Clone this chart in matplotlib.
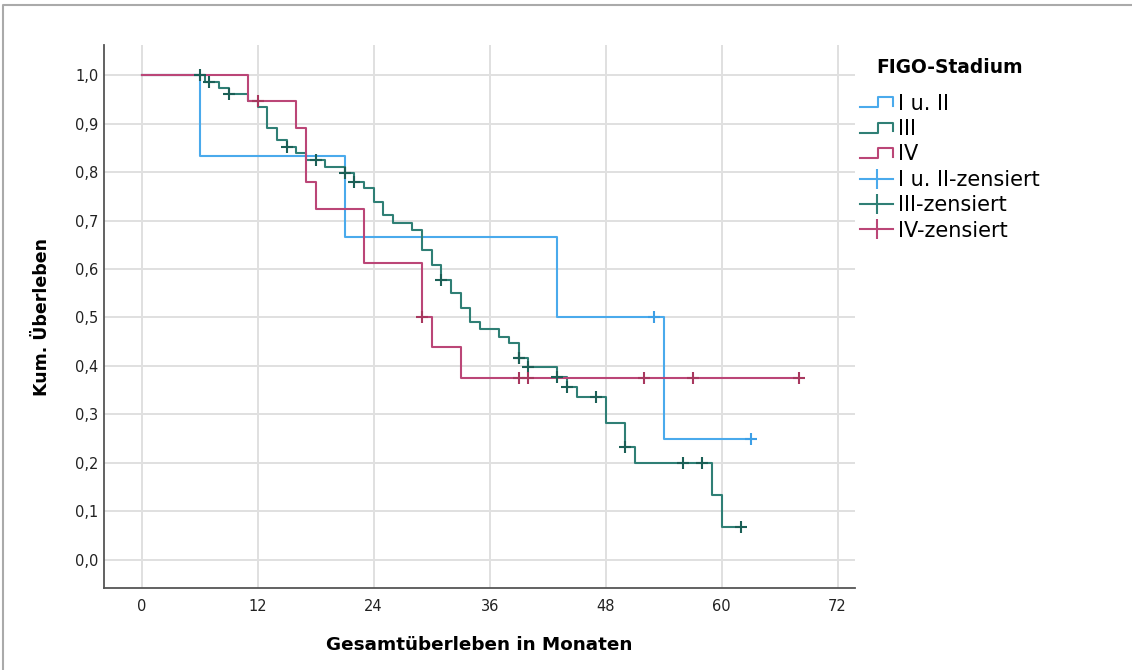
import matplotlib

matplotlib.use("Agg")
import matplotlib.pyplot as plt
import numpy as np
from matplotlib.legend_handler import HandlerBase
from matplotlib.lines import Line2D

# Kaplan-Meier step data (months, cumulative survival after the drop)
groups = ["I u. II", "III", "IV"]

t_12 = [6, 21, 43, 54]
s_12 = [0.833, 0.667, 0.500, 0.250]
c_12 = [53, 63]

t_3 = [6.5, 8, 9, 11, 12, 13, 14, 15, 16, 17, 19, 21, 22, 23, 24, 25, 26, 28, 29,
       30, 31, 32, 33, 34, 35, 37, 38, 39, 40, 43, 44, 45, 48, 50, 51, 59, 60]
s_3 = [0.986, 0.973, 0.960, 0.946, 0.934, 0.891, 0.866, 0.852, 0.839, 0.825,
       0.810, 0.798, 0.779, 0.767, 0.738, 0.711, 0.695, 0.680, 0.639, 0.608,
       0.577, 0.551, 0.520, 0.491, 0.476, 0.460, 0.447, 0.416, 0.398, 0.377,
       0.357, 0.336, 0.282, 0.233, 0.200, 0.134, 0.068]
c_3 = [6, 7, 9, 15, 18, 21, 22, 31, 39, 39, 40, 43, 44, 47, 50, 56, 58, 62]

t_4 = [11, 16, 17, 18, 23, 29, 30, 33]
s_4 = [0.947, 0.891, 0.780, 0.724, 0.613, 0.501, 0.439, 0.376]
c_4 = [12, 29, 39, 40, 52, 57, 68]

x_ticks = [0, 12, 24, 36, 48, 60, 72]
y_ticks = [0.0, 0.1, 0.2, 0.3, 0.4, 0.5, 0.6, 0.7, 0.8, 0.9, 1.0]

LINE_COL = ["#4aaaec", "#2f7f75", "#bb4677"]
MARK_COL = ["#3d9fe6", "#1b5f56", "#a8385f"]


class StepHandler(HandlerBase):
    def create_artists(self, legend, orig_handle, xdescent, ydescent,
                       width, height, fontsize, trans):
        lo = -ydescent + 0.15 * height
        hi = -ydescent + 0.85 * height
        x0 = -xdescent
        xs = [x0, x0 + 0.55 * width, x0 + 0.55 * width, x0 + width, x0 + width]
        ys = [lo, lo, hi, hi, lo + 0.1 * height]
        ln = Line2D(xs, ys, color=orig_handle.get_color(),
                    lw=orig_handle.get_linewidth(), transform=trans)
        return [ln]


def step_xy(times, surv, cens):
    end = max([times[-1]] + list(cens))
    xs = np.concatenate([[0], times, [end]])
    ys = np.concatenate([[1.0], surv, [surv[-1]]])
    return xs, ys


def value_at(times, surv, t):
    i = np.searchsorted(np.asarray(times), t, side="right")
    return 1.0 if i == 0 else surv[i - 1]


fig = plt.figure(figsize=(11.32, 6.70), dpi=100)
ax = fig.add_axes([104 / 1132, 1 - 588 / 670, (855 - 104) / 1132, (588 - 45) / 670])

data = [(t_12, s_12, c_12), (t_3, s_3, c_3), (t_4, s_4, c_4)]
for k, (tt, ss, cc) in enumerate(data):
    xs, ys = step_xy(tt, ss, cc)
    ax.step(xs, ys, where="post", color=LINE_COL[k], lw=1.5, zorder=3)
    cy = [value_at(tt, ss, c) for c in cc]
    ax.plot(cc, cy, ls="none", marker="+", ms=9, mew=1.5,
            color=MARK_COL[k], zorder=4)

ax.set_xlim(-3.9, 73.8)
ax.set_ylim(-0.058, 1.062)
ax.set_xticks(x_ticks)
ax.set_yticks(y_ticks)
ax.set_yticklabels([f"{v:.1f}".replace(".", ",") for v in y_ticks])
ax.tick_params(axis="x", length=0, labelsize=10.5, colors="#222222", pad=8)
ax.tick_params(axis="y", length=0, labelsize=10.5, colors="#222222", pad=4)
ax.grid(True, color="#e0e0e0", lw=1.4, zorder=0)
ax.set_axisbelow(True)
for side in ["top", "right"]:
    ax.spines[side].set_visible(False)
for side in ["left", "bottom"]:
    ax.spines[side].set_color("#555555")
    ax.spines[side].set_linewidth(1.3)

ax.set_xlabel("Gesamtüberleben in Monaten", fontsize=13.2, fontweight="bold", labelpad=16)
ax.set_ylabel("Kum. Überleben", fontsize=12.5, fontweight="bold", labelpad=17)

handles = []
labels = []
for k, g in enumerate(groups):
    handles.append(Line2D([], [], color=LINE_COL[k], lw=1.5))
    labels.append(g)
for k, g in enumerate(groups):
    handles.append(Line2D([0, 1], [0, 0], color=LINE_COL[k], lw=1.5,
                          marker="|", ms=14, mew=1.5))
    labels.append(g + "-zensiert")

handler_map = {h: StepHandler() for h in handles[:3]}
leg = fig.legend(handles, labels, handler_map=handler_map,
                 loc="upper left", bbox_to_anchor=(860 / 1132, 1 - 58 / 670),
                 frameon=False, fontsize=15, handlelength=1.6, handletextpad=0.2,
                 labelspacing=0.26, borderpad=0, borderaxespad=0,
                 title="FIGO-Stadium", alignment="center",
                 title_fontproperties={"weight": "bold", "size": 13.4})
leg._legend_box.sep = 12

# outer frame as in the exported figure
fig.add_artist(Line2D([3 / 1132, 3 / 1132, 1], [0, 1 - 5 / 670, 1 - 5 / 670],
                      transform=fig.transFigure, color="#aaaaaa", lw=1.5))

fig.savefig("out.png", dpi=100)
